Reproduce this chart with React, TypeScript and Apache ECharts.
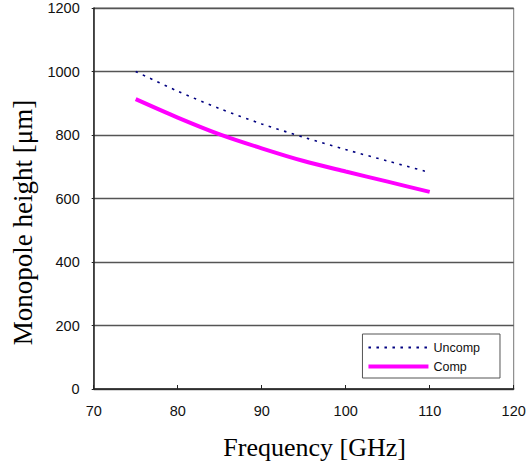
import React, { useEffect, useRef } from "react";
import * as echarts from "echarts";

const frequencies = [75, 80, 85, 90, 95, 100, 105, 110];
const uncompValues = [1000, 938, 883, 835, 793, 754, 718, 682];
const compValues = [913, 855, 802, 758, 718, 685, 653, 621];
const xTicks = [70, 80, 90, 100, 110, 120];
const yTicks = [0, 200, 400, 600, 800, 1000, 1200];

export default function App() {
  const ref = useRef<HTMLDivElement>(null);
  useEffect(() => {
    if (!ref.current) return;
    const chart = echarts.init(ref.current, undefined, { renderer: "svg" });
    const sans = "Liberation Sans, Arial, sans-serif";
    const serif = "Liberation Serif, Times New Roman, serif";
    chart.setOption({
      animation: false,
      backgroundColor: "#ffffff",
      grid: {
        left: 93.7,
        right: 18.3,
        top: 8,
        bottom: 77,
        show: true,
        borderColor: "#777777",
        borderWidth: 1,
      },
      xAxis: {
        type: "value",
        min: xTicks[0],
        max: xTicks[xTicks.length - 1],
        interval: 10,
        name: "Frequency [GHz]",
        nameLocation: "middle",
        nameGap: 45,
        nameTextStyle: { fontFamily: serif, fontSize: 26, color: "#000", padding: [0, 0, 0, 22] },
        axisLine: { show: true, lineStyle: { color: "#222", width: 1.5 } },
        axisTick: { show: true, inside: true, length: 4, lineStyle: { color: "#222", width: 1 } },
        axisLabel: { fontFamily: sans, fontSize: 14.5, color: "#111", margin: 14, formatter: (v: number) => String(v) },
        splitLine: { show: false },
      },
      yAxis: {
        type: "value",
        min: yTicks[0],
        max: yTicks[yTicks.length - 1],
        interval: 200,
        name: "Monopole height [μm]",
        nameLocation: "middle",
        nameGap: 55,
        nameTextStyle: { fontFamily: serif, fontSize: 27, color: "#000", padding: [0, 48, 0, 0] },
        axisLine: { show: true, lineStyle: { color: "#222", width: 1.5 } },
        axisTick: { show: true, length: 2, lineStyle: { color: "#222", width: 1 } },
        axisLabel: { fontFamily: sans, fontSize: 14.5, color: "#111", margin: 14, formatter: (v: number) => String(v) },
        splitLine: { show: true, lineStyle: { color: "#555", width: 1.3 } },
      },
      legend: {
        orient: "vertical",
        right: 32,
        top: 334,
        borderColor: "#555",
        borderWidth: 1,
        padding: [7, 20, 5, 4],
        itemGap: 6,
        itemWidth: 60,
        itemHeight: 14,
        itemTextGap: 4,
        itemStyle: { opacity: 0 },
        textStyle: { fontFamily: sans, fontSize: 12.5, color: "#111" },
        data: [
          { name: "Uncomp", lineStyle: { width: 2 } },
          { name: "Comp", lineStyle: { width: 4 } },
        ],
      },
      series: [
        {
          name: "Uncomp",
          type: "line",
          symbol: "none",
          smooth: 0.3,
          data: frequencies.map((f, i) => [f, uncompValues[i]]),
          lineStyle: { color: "#000080", width: 1.6, type: [2.5, 5.5] },
          itemStyle: { color: "#000080" },
        },
        {
          name: "Comp",
          type: "line",
          symbol: "none",
          smooth: 0.3,
          data: frequencies.map((f, i) => [f, compValues[i]]),
          lineStyle: { color: "#ff00ff", width: 4 },
          itemStyle: { color: "#ff00ff" },
        },
      ],
    });
    return () => chart.dispose();
  }, []);
  return (
    <div
      ref={ref}
      style={{ position: "fixed", left: 0, top: 0, width: 532, height: 466, background: "#fff" }}
    />
  );
}
